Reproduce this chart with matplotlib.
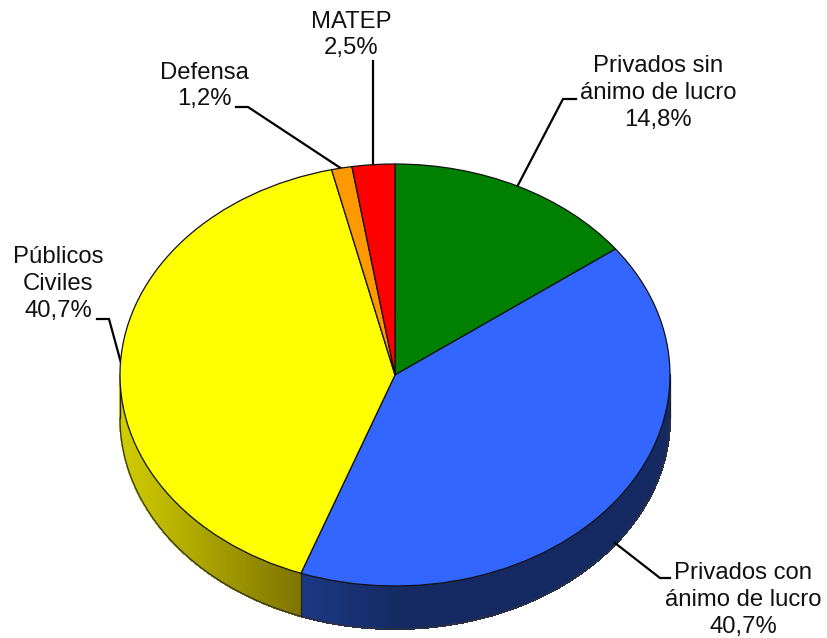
#!/usr/bin/env python3
"""Pie chart with 3D look: distribution by sector."""

import numpy as np
import matplotlib
matplotlib.use('Agg')
import matplotlib.pyplot as plt
from matplotlib.collections import PolyCollection

plt.rcParams['font.family'] = ['Liberation Sans', 'DejaVu Sans']

# Data
sectors = ['Privados sin\nánimo de lucro', 'Privados con\nánimo de lucro',
           'Públicos\nCiviles', 'Defensa', 'MATEP']
shares = [14.8, 40.7, 40.7, 1.2, 2.5]
share_labels = ['14,8%', '40,7%', '40,7%', '1,2%', '2,5%']

COLORS = ['#008000', '#3366ff', '#ffff00', '#ff9900', '#ff0000']

# Figure geometry, in pixels
W, H = 828, 638
CX, CY = 395, 375
RX, RY = 275, 211
DEPTH = 43


def px(x, y):
    """Pixel position of the reference -> data coords"""
    return (x - CX) / RX, (CY - y) / RY


fig = plt.figure(figsize=(W / 100, H / 100), dpi=100)
ax = fig.add_axes([0, 0, 1, 1])

wedges, _ = ax.pie(shares, colors=COLORS, startangle=90, counterclock=False,
                   wedgeprops=dict(edgecolor='#111111', linewidth=0.9, zorder=3))
ax.set_aspect('auto')
ax.set_xlim(px(0, 0)[0], px(W, 0)[0])
ax.set_ylim(px(0, H)[1], px(0, 0)[1])

# ========== Side wall ==========
d = DEPTH / RY
fractions = np.array(shares) / sum(shares)
# boundary blue/yellow, in math angle
theta_split = 90 - 360 * (fractions[0] + fractions[1])


def wall(t0, t1, shade):
    t = np.radians(np.linspace(t0, t1, 160))
    x, y = np.cos(t), np.sin(t)
    quads, cols = [], []
    for i in range(len(t) - 1):
        quads.append([(x[i], y[i]), (x[i + 1], y[i + 1]),
                      (x[i + 1], y[i + 1] - d), (x[i], y[i] - d)])
        cols.append(shade((x[i] + x[i + 1]) / 2))
    # sin antialias: si no salen rayas entre los trozos
    ax.add_collection(PolyCollection(quads, facecolors=cols, edgecolors=cols,
                                     linewidths=0.8, antialiaseds=False, zorder=1))
    ax.plot(x, y - d, color='#333333', linewidth=0.9, zorder=2)


def shade_blue(x):
    return (np.interp(x, [-0.34, 0.02], [28, 21]) / 255,
            np.interp(x, [-0.34, 0.02], [56, 42]) / 255,
            np.interp(x, [-0.34, 0.02], [132, 98]) / 255)


def shade_yellow(x):
    return (np.interp(x, [-1, -0.34], [208, 125]) / 255,
            np.interp(x, [-1, -0.34], [205, 115]) / 255,
            0)


wall(0, theta_split, shade_blue)
wall(theta_split, -180, shade_yellow)

# Vertical edges of the wall
for t in [0, theta_split, -180]:
    x0, y0 = np.cos(np.radians(t)), np.sin(np.radians(t))
    ax.plot([x0, x0], [y0, y0 - d], color='#222222', linewidth=0.9, zorder=2)

# ========== Labels ==========
text_pos = [(658, 93), (743, 600), (58, 284), (204, 86), (351, 35)]
leaders = [
    [(517, 187), (563, 99), (576, 99)],
    [(615, 543), (660, 578), (670, 578)],
    [(121, 363), (109, 319), (97, 319)],
    [(342, 169), (248, 107), (236, 107)],
    [(373, 166), (373, 61)],
]

for name, share, (tx, ty), pts in zip(sectors, share_labels, text_pos, leaders):
    ax.text(*px(tx, ty), f'{name}\n{share}', fontsize=17.2, color='#111111',
            ha='center', va='center', linespacing=1.27, zorder=5, clip_on=False)
    xy = [px(*p) for p in pts]
    ax.plot([p[0] for p in xy], [p[1] for p in xy], color='black',
            linewidth=1.6, solid_joinstyle='miter', zorder=2.5)

fig.savefig('out.png', dpi=100, facecolor='white')
